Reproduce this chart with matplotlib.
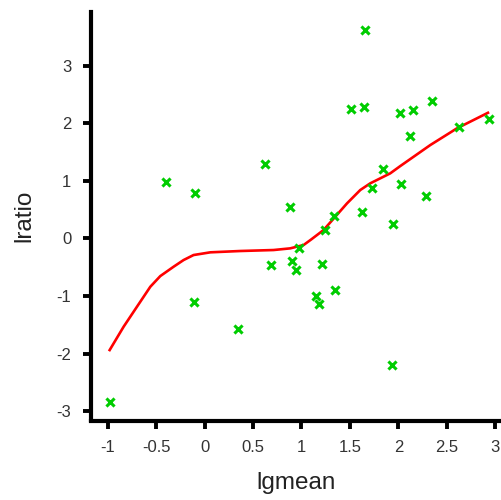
import matplotlib
matplotlib.use("Agg")
import matplotlib.pyplot as plt

plt.rcParams['font.family'] = ['Liberation Sans', 'DejaVu Sans']
plt.rcParams['axes.unicode_minus'] = False

# scatter of log mean vs log ratio
lgmean = [1.658, 1.507, 1.641, 2.016, 2.154, 2.343, 2.628, 2.938, 2.123,
          -0.398, -0.099, 0.623, 1.837, 1.727, 2.023, 2.281, 0.884, 1.335,
          1.627, 1.947, 1.238, 0.974, 0.905, 0.939, 0.681, 1.215, -0.109,
          1.149, 1.177, 1.349, 0.345, 1.937, -0.980]
lratio = [3.62, 2.245, 2.274, 2.175, 2.22, 2.38, 1.93, 2.08, 1.776,
          0.983, 0.79, 1.296, 1.203, 0.868, 0.948, 0.729, 0.549, 0.38,
          0.46, 0.248, 0.139, -0.163, -0.389, -0.545, -0.469, -0.441, -1.111,
          -0.996, -1.135, -0.903, -1.569, -2.194, -2.837]

# smoothed fit line
fit_x = [-0.98, -0.836, -0.698, -0.56, -0.457, -0.32, -0.217, -0.114, 0.059,
         0.368, 0.712, 0.884, 1.022, 1.10, 1.228, 1.349, 1.47, 1.607, 1.71,
         1.916, 2.02, 2.33, 2.605, 2.925]
fit_y = [-1.94, -1.535, -1.187, -0.84, -0.655, -0.493, -0.377, -0.29, -0.243,
         -0.22, -0.203, -0.174, -0.116, -0.02, 0.144, 0.375, 0.607, 0.839, 0.955,
         1.128, 1.255, 1.62, 1.91, 2.18]

fig = plt.figure(figsize=(5.02, 5.00), dpi=100)
ax = fig.add_axes([0.181, 0.159, 0.819, 0.817])

ax.plot(fit_x, fit_y, color='#FF0000', lw=1.9, zorder=2, solid_joinstyle='round')
ax.scatter(lgmean, lratio, marker='x', s=34, color='#00CD00', linewidths=2.2, zorder=3)

ax.set_xlim(-1.174, 3.07)
ax.set_ylim(-3.163, 3.93)
ax.set_xticks([-1, -0.5, 0, 0.5, 1, 1.5, 2, 2.5, 3])
ax.set_xticklabels(['-1', '-0.5', '0', '0.5', '1', '1.5', '2', '2.5', '3'])
ax.set_yticks([-3, -2, -1, 0, 1, 2, 3])

for side in ['top', 'right']:
    ax.spines[side].set_visible(False)
for side in ['left', 'bottom']:
    ax.spines[side].set_linewidth(3)
ax.tick_params(length=6, width=2.8, labelsize=12, labelcolor='#333333', pad=8)

ax.set_xlabel('lgmean', fontsize=17.5, color='#222222', labelpad=12)
ax.set_ylabel('lratio', fontsize=17.5, color='#222222', labelpad=15)

fig.savefig('out.png', dpi=100)
